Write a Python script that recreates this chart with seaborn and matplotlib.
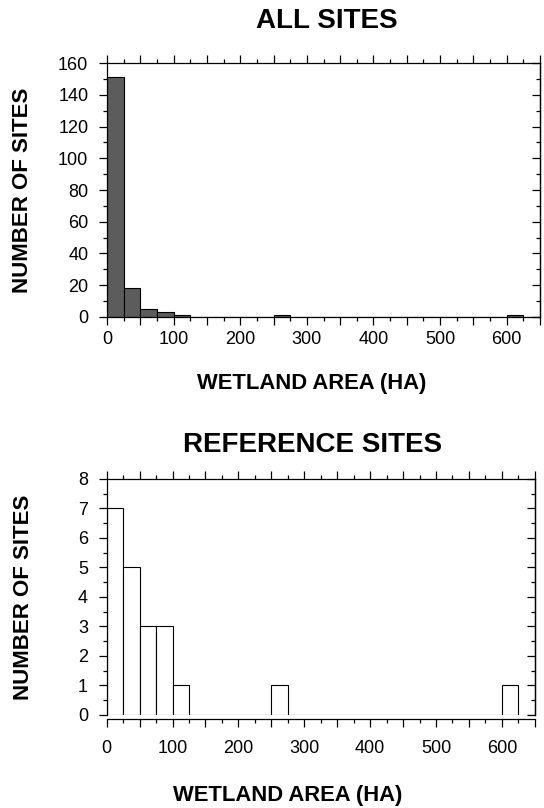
import numpy as np
import matplotlib
matplotlib.use("Agg")
import matplotlib.pyplot as plt
from matplotlib.ticker import MultipleLocator, FuncFormatter
import seaborn as sns

# 25-ha bins from 0 to 650 ha
bin_edges = list(range(0, 675, 25))
bin_centers = [e + 12.5 for e in bin_edges[:-1]]

# number of sites per bin
all_sites = [151, 18, 5, 3, 1, 0, 0, 0, 0, 0, 1, 0, 0,
             0, 0, 0, 0, 0, 0, 0, 0, 0, 0, 0, 1, 0]
reference_sites = [7, 5, 3, 3, 1, 0, 0, 0, 0, 0, 1, 0, 0,
                   0, 0, 0, 0, 0, 0, 0, 0, 0, 0, 0, 1, 0]

titles = ["ALL SITES", "REFERENCE SITES"]
x_label = "WETLAND AREA (HA)"
y_label = "NUMBER OF SITES"


def set_plot_style() -> None:
    """
    Seaborn ticks style with a Helvetica-like font, all black
    """
    sns.set_theme(style="ticks")
    plt.rcParams.update({
        "font.family": ["Liberation Sans", "DejaVu Sans"],
        "axes.linewidth": 0.9,
        "axes.edgecolor": "black",
        "axes.labelcolor": "black",
        "text.color": "black",
        "xtick.color": "black",
        "ytick.color": "black",
        "xtick.labelsize": 13,
        "ytick.labelsize": 13,
    })


def style_axes(ax, y_major, y_minor, y_max) -> None:
    """
    Box with ticks on all sides, right ticks pointing inwards
    """
    ax.set_xlim(0, 650)
    ax.set_ylim(0, y_max)
    ax.xaxis.set_major_locator(MultipleLocator(50))
    ax.xaxis.set_minor_locator(MultipleLocator(25))
    ax.xaxis.set_major_formatter(
        FuncFormatter(lambda v, p: f"{int(v)}" if v % 100 == 0 else ""))
    ax.yaxis.set_major_locator(MultipleLocator(y_major))
    ax.yaxis.set_minor_locator(MultipleLocator(y_minor))
    ax.tick_params(which="both", direction="out", top=True, right=False,
                   width=0.9)
    ax.tick_params(which="major", length=5.5)
    ax.tick_params(which="minor", length=3)
    ax.tick_params(axis="y", pad=8)
    ax.tick_params(axis="x", pad=4.5)

    sec = ax.secondary_yaxis("right")
    sec.yaxis.set_major_locator(MultipleLocator(y_major))
    sec.yaxis.set_minor_locator(MultipleLocator(y_minor))
    sec.tick_params(which="both", direction="in", labelright=False, width=0.9)
    sec.tick_params(which="major", length=5.5)
    sec.tick_params(which="minor", length=3)
    sec.spines["right"].set_linewidth(0.9)


set_plot_style()
fig = plt.figure(figsize=(5.44, 8.08), dpi=100)

# top panel: all sites
ax1 = fig.add_axes([0.1967, 0.6077, 0.7960, 0.3143])
sns.histplot(x=bin_centers, weights=all_sites, bins=bin_edges, ax=ax1,
             color="#5c5c5c", edgecolor="black", linewidth=0.8, alpha=1)
style_axes(ax1, 20, 10, 160)
ax1.set_ylabel(y_label, fontsize=16, fontweight="bold")
ax1.yaxis.set_label_coords(-0.17, 0.5)
ax1.set_xlabel(x_label, fontsize=15.8, fontweight="bold", va="baseline")
ax1.xaxis.set_label_coords(0.472, -0.285)

# bottom panel: reference sites
ax2 = fig.add_axes([0.1961, 0.1151, 0.7869, 0.2921])
sns.histplot(x=bin_centers, weights=reference_sites, bins=bin_edges, ax=ax2,
             color="white", edgecolor="black", linewidth=0.8, alpha=1)
style_axes(ax2, 1, 0.5, 8)
ax2.spines["bottom"].set_position(("outward", 3))
ax2.tick_params(axis="x", pad=9.5)
ax2.set_ylabel(y_label, fontsize=16, fontweight="bold")
ax2.yaxis.set_label_coords(-0.17, 0.5)
ax2.set_xlabel(x_label, fontsize=15.8, fontweight="bold", va="baseline")
ax2.xaxis.set_label_coords(0.423, -0.364)

fig.text(0.600, 0.965, titles[0], fontsize=20, fontweight="bold",
         ha="center", va="baseline")
fig.text(0.574, 0.441, titles[1], fontsize=20, fontweight="bold",
         ha="center", va="baseline")

fig.savefig("out.png", dpi=100)
